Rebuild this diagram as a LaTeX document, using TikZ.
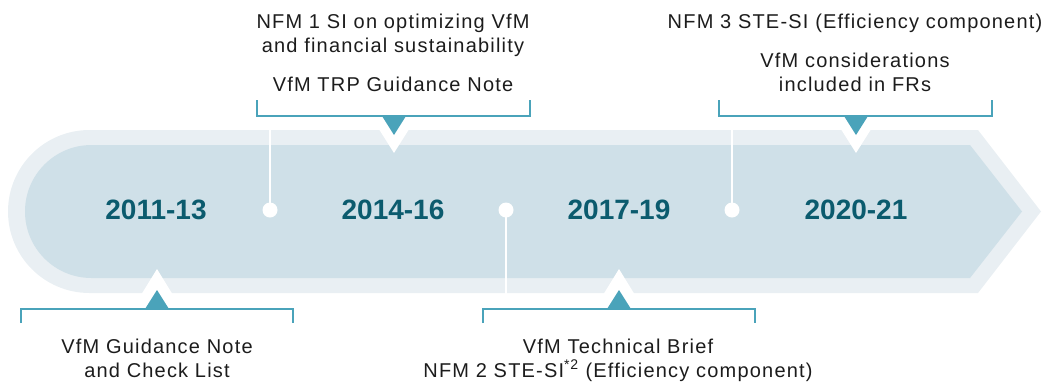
\documentclass[tikz,border=0pt]{standalone}
\usepackage{fontspec}
\setmainfont{Liberation Sans}
\newfontfamily\bodyfont[LetterSpace=6]{Liberation Sans}
\newfontfamily\yearfont{Liberation Sans}
\definecolor{outerband}{HTML}{E9EFF3}
\definecolor{innerband}{HTML}{CFE0E8}
\definecolor{tealmark}{HTML}{4AA3BA}
\definecolor{yeartext}{HTML}{0B5B6E}
\definecolor{bodytext}{HTML}{1C1C1C}
\begin{document}
\begin{tikzpicture}[x=1pt,y=-1pt,
  yearlbl/.style={anchor=base,text=yeartext,inner sep=0pt,font=\yearfont\bfseries\fontsize{28}{30}\selectfont},
  desc/.style={anchor=base,text=bodytext,inner sep=0pt,align=center,font=\bodyfont\fontsize{20}{23.5}\selectfont},
  bracket/.style={draw=tealmark,line width=2pt},
  marker/.style={fill=tealmark},
  notch/.style={fill=white},
  dotmark/.style={circle,fill=white,minimum size=15pt,inner sep=0pt},
  stem/.style={draw=white,line width=2pt}]
\useasboundingbox (0,0) rectangle (1047,384);
% band
\fill[outerband] (89.5,130) -- (978,130) -- (1041,211.5) -- (978,293) -- (89.5,293) arc[start angle=90,end angle=270,radius=81.5] -- cycle;
\fill[innerband] (91.5,145) -- (970,145) -- (1022,211.5) -- (970,278) -- (91.5,278) arc[start angle=90,end angle=270,radius=66.5] -- cycle;
% stems and dots
\node[dotmark] (d1) at (270,210) {};
\node[dotmark] (d2) at (506,210) {};
\node[dotmark] (d3) at (732,210) {};
\coordinate (s1) at (270,128);
\coordinate (s2) at (506,294);
\coordinate (s3) at (732,128);
\draw[stem] (s1) -- (d1.center);
\draw[stem] (s2) -- (d2.center);
\draw[stem] (s3) -- (d3.center);
% notches
\fill[notch] (370,115) -- (418,115) -- (394,153) -- cycle;
\fill[notch] (832,115) -- (880,115) -- (856,153) -- cycle;
\fill[notch] (133,308) -- (181,308) -- (157,269) -- cycle;
\fill[notch] (595,308) -- (643,308) -- (619,269) -- cycle;
% brackets
\draw[bracket] (257,100) -- (257,116) -- (530,116) -- (530,100);
\draw[bracket] (719,100) -- (719,116) -- (992,116) -- (992,100);
\draw[bracket] (21,323) -- (21,309) -- (293,309) -- (293,323);
\draw[bracket] (483,323) -- (483,309) -- (755,309) -- (755,323);
% markers
\fill[marker] (382,116) -- (406,116) -- (394,135) -- cycle;
\fill[marker] (844,116) -- (868,116) -- (856,135) -- cycle;
\fill[marker] (145,309) -- (169,309) -- (157,290) -- cycle;
\fill[marker] (607,309) -- (631,309) -- (619,290) -- cycle;
% years
\node[yearlbl] (y1) at (156,219) {2011-13};
\node[yearlbl] (y2) at (393,219) {2014-16};
\node[yearlbl] (y3) at (619,219) {2017-19};
\node[yearlbl] (y4) at (856,219) {2020-21};
% descriptions (base anchor = baseline of last line)
\node[desc] (t1) at (393,52) {NFM 1 SI on optimizing VfM\\and financial sustainability};
\node[desc] (t2) at (393,91) {VfM TRP Guidance Note};
\node[desc] (t3) at (855,28) {NFM 3 STE-SI (Efficiency component)};
\node[desc] (t4) at (855,91) {VfM considerations\\included in FRs};
\node[desc] (b1) at (157,377) {VfM Guidance Note\\and Check List};
\node[desc] (b2) at (618,377) {VfM Technical Brief\\NFM 2 STE-SI\textsuperscript{*2} (Efficiency component)};
\end{tikzpicture}
\end{document}
